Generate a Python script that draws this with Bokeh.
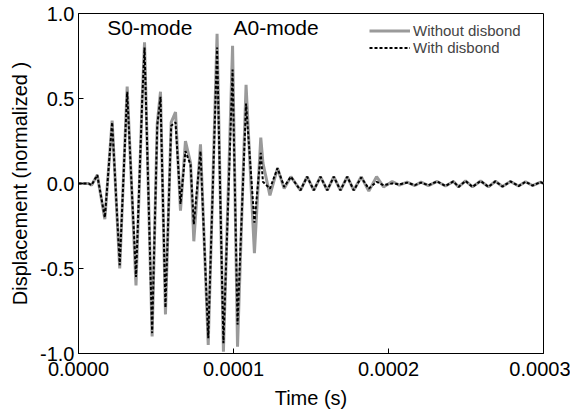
from bokeh.plotting import figure
from bokeh.models import FixedTicker, PrintfTickFormatter, Legend, LegendItem, Label, Range1d
from bokeh.embed import file_html
from bokeh.resources import INLINE
import numpy as np

# Time axis (microseconds) of the read-off waveform points
time_us = [0, 6.5, 8.4, 12.1, 17.0, 21.7, 26.6, 31.4, 37.1, 41.1,
           42.6, 47.5, 50.8, 52.9, 56.1, 59.8, 62.6, 65.8, 69.0, 72.3,
           74.4, 78.7, 83.7, 89.4, 93.5, 99.4, 102.6, 108.1, 113.5, 117.6,
           119.0, 123.5, 128.4, 132.7, 137.0, 143.2, 147.5, 151.8, 156.1, 160.5,
           164.7, 169.0, 173.4, 177.6, 182.4, 187.3, 192.3, 196.8, 202.4, 207.0,
           212.0, 217.0, 221.0, 225.8, 231.4, 236.8, 241.9, 245.2, 249.7, 254.2,
           259.4, 264.5, 269.0, 273.5, 278.7, 283.9, 288.4, 292.9, 298.1, 300.0]

without_disbond = [0.0, 0.0, -0.01, 0.05, -0.21, 0.37, -0.50, 0.57, -0.60, 0.50,
                   0.83, -0.90, 0.35, 0.54, -0.77, 0.36, 0.42, -0.16, 0.25, 0.12,
                   -0.34, 0.23, -0.95, 0.88, -0.99, 0.81, -0.96, 0.58, -0.41, 0.27,
                   0.12, -0.07, 0.09, -0.03, 0.04, -0.04, 0.04, -0.04, 0.04, -0.04,
                   0.04, -0.04, 0.04, -0.04, 0.04, -0.045, 0.04, -0.02, 0.012, -0.01,
                   0.008, -0.012, 0.008, -0.012, 0.012, -0.015, 0.012, -0.02, 0.015, -0.02,
                   0.015, -0.02, 0.013, -0.018, 0.012, -0.015, 0.01, -0.012, 0.008, 0.0]

with_disbond = [0.0, 0.0, -0.01, 0.05, -0.20, 0.36, -0.48, 0.54, -0.55, 0.49,
                0.80, -0.88, 0.34, 0.51, -0.73, 0.34, 0.36, -0.12, 0.19, 0.11,
                -0.24, 0.19, -0.91, 0.80, -0.94, 0.67, -0.83, 0.47, -0.23, 0.18,
                0.01, -0.03, 0.09, -0.02, 0.04, -0.04, 0.04, -0.04, 0.04, -0.04,
                0.04, -0.04, 0.04, -0.04, 0.035, -0.03, 0.01, -0.01, 0.0, -0.005,
                0.005, -0.01, 0.005, -0.01, 0.012, -0.015, 0.012, -0.02, 0.015, -0.02,
                0.015, -0.02, 0.013, -0.018, 0.012, -0.015, 0.01, -0.012, 0.008, 0.0]

x_ticks = [0.0, 0.0001, 0.0002, 0.0003]
y_ticks = [-1.0, -0.5, 0.0, 0.5, 1.0]

annot_text = ["S0-mode", "A0-mode"]
annot_x_us = [18.5, 100.0]
annot_y = [0.92, 0.92]

series_labels = ["Without disbond", "With disbond"]

t = np.array(time_us) * 1e-6

FONT = "Liberation Sans"

p = figure(width=570, height=411, output_backend="svg", toolbar_location=None,
           x_range=Range1d(0, 0.0003), y_range=Range1d(-1.0, 1.0),
           min_border_left=78, min_border_right=27, min_border_top=13, min_border_bottom=54)

p.xgrid.visible = False
p.ygrid.visible = False
p.outline_line_color = "black"
p.outline_line_width = 1
p.background_fill_color = "white"
p.border_fill_color = "white"

r1 = p.line(t, without_disbond, line_color="#9a9a9a", line_width=3)
r2 = p.line(t, with_disbond, line_color="black", line_width=2, line_dash="3 2")

for ax in (p.xaxis[0], p.yaxis[0]):
    ax.major_tick_in = 5
    ax.major_tick_out = 0
    ax.minor_tick_line_color = None
    ax.axis_line_color = "black"
    ax.major_tick_line_color = "black"
    ax.major_label_text_font = FONT
    ax.major_label_text_font_size = "20px"
    ax.major_label_text_color = "black"
    ax.axis_label_text_font = FONT
    ax.axis_label_text_font_size = "20px"
    ax.axis_label_text_font_style = "normal"
    ax.axis_label_text_color = "black"

p.xaxis.ticker = FixedTicker(ticks=x_ticks)
p.xaxis.formatter = PrintfTickFormatter(format="%.4f")
p.xaxis.axis_label = "Time (s)"
p.xaxis.major_label_standoff = 8
p.xaxis.axis_label_standoff = 8

p.yaxis.ticker = FixedTicker(ticks=y_ticks)
p.yaxis.formatter = PrintfTickFormatter(format="%.1f")
p.yaxis.axis_label = "Displacement (normalized )"
p.yaxis.major_label_standoff = 4
p.yaxis.axis_label_standoff = 6

for txt, xu, yv in zip(annot_text, annot_x_us, annot_y):
    p.add_layout(Label(x=xu * 1e-6, y=yv, text=txt, text_font=FONT, text_font_size="21px",
                       text_baseline="middle", text_align="left", text_color="black"))

legend_style = dict(border_line_color=None, background_fill_alpha=0,
                    label_text_font=FONT, label_text_font_size="15px",
                    glyph_width=41, glyph_height=13, label_height=13, label_standoff=3,
                    spacing=0, padding=0, margin=0)
legend_locs = [(291, 314), (291, 297)]
for lab, rend, loc in zip(series_labels, [r1, r2], legend_locs):
    p.add_layout(Legend(items=[LegendItem(label=lab, renderers=[rend])],
                        location=loc, **legend_style))

open("out.html", "w").write(file_html(p, INLINE))
